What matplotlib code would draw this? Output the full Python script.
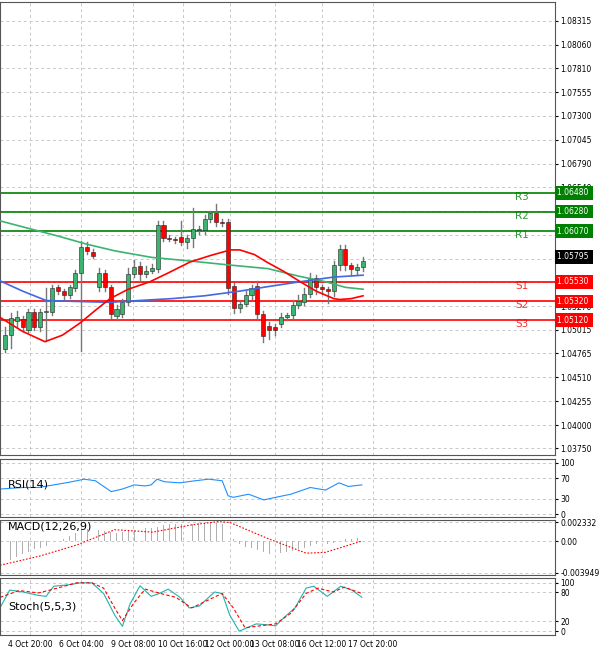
import matplotlib
matplotlib.use("Agg")
import matplotlib.pyplot as plt
from matplotlib.patches import Rectangle
import numpy as np

opens  = [1.0481,1.0496,1.0511,1.0513,1.0502,1.0521,1.0505,1.0521,1.0521,1.0547,1.0543,1.0539,1.0546,1.0562,1.0590,1.0585,1.0547,1.0562,1.0547,1.0516,1.0519,1.0531,1.0561,1.0570,1.0561,1.0564,1.0567,1.0614,1.0600,1.0599,1.0601,1.0595,1.0600,1.0608,1.0608,1.0620,1.0626,1.0617,1.0617,1.0548,1.0525,1.0529,1.0539,1.0548,1.0519,1.0506,1.0505,1.0508,1.0515,1.0517,1.0528,1.0531,1.0540,1.0557,1.0547,1.0545,1.0543,1.0571,1.0588,1.0571,1.0566,1.0569]
closes = [1.0496,1.0514,1.0515,1.0505,1.0521,1.0505,1.0521,1.0522,1.0546,1.0543,1.0539,1.0547,1.0562,1.0590,1.0586,1.0581,1.0562,1.0547,1.0519,1.0524,1.0531,1.0561,1.0569,1.0561,1.0564,1.0568,1.0614,1.0600,1.0599,1.0598,1.0595,1.0600,1.0609,1.0609,1.0620,1.0626,1.0617,1.0616,1.0546,1.0525,1.0529,1.0539,1.0546,1.0519,1.0495,1.0501,1.0501,1.0515,1.0517,1.0528,1.0532,1.0540,1.0557,1.0547,1.0545,1.0543,1.0571,1.0588,1.0571,1.0567,1.0569,1.0575]
highs  = [1.0505,1.0520,1.0522,1.0516,1.0524,1.0524,1.0524,1.0546,1.0550,1.0550,1.0545,1.0550,1.0566,1.0596,1.0595,1.0588,1.0568,1.0566,1.0550,1.0528,1.0535,1.0568,1.0576,1.0574,1.0570,1.0572,1.0618,1.0618,1.0603,1.0601,1.0618,1.0603,1.0632,1.0612,1.0624,1.0629,1.0636,1.0620,1.0620,1.0552,1.0532,1.0543,1.0550,1.0554,1.0522,1.0510,1.0508,1.0520,1.0520,1.0533,1.0539,1.0546,1.0562,1.0560,1.0549,1.0547,1.0575,1.0592,1.0592,1.0573,1.0572,1.0579]
lows   = [1.0478,1.0482,1.0505,1.0500,1.0499,1.0501,1.0500,1.0490,1.0518,1.0540,1.0535,1.0536,1.0543,1.0479,1.0583,1.0578,1.0543,1.0543,1.0514,1.0512,1.0515,1.0528,1.0558,1.0554,1.0558,1.0562,1.0563,1.0596,1.0596,1.0594,1.0592,1.0589,1.0590,1.0604,1.0604,1.0617,1.0612,1.0612,1.0540,1.0520,1.0521,1.0527,1.0535,1.0514,1.0489,1.0492,1.0496,1.0505,1.0512,1.0513,1.0525,1.0528,1.0537,1.0540,1.0540,1.0530,1.0538,1.0566,1.0566,1.0560,1.0561,1.0565]

ma_x = [-0.85,3.0,6.8,9.8,12.8,15.5,17.9,21.0,24.7,28.0,31.5,35.0,38.4,40.0,42.5,44.6,47.5,50.3,53.0,56.0,57.0,59.0,61.0]
ma_red = [1.0515,1.0500,1.0489,1.0496,1.0509,1.0523,1.0535,1.0545,1.0553,1.0563,1.0574,1.0581,1.0587,1.0587,1.0582,1.0574,1.0564,1.0553,1.0543,1.0535,1.0534,1.0535,1.0538]
mb_x = [-0.85,3.0,7.0,12.0,17.9,23.0,28.5,34.0,40.0,45.0,50.3,56.0,61.0]
ma_blue = [1.0554,1.0543,1.0533,1.0532,1.0531,1.0533,1.0535,1.0538,1.0543,1.0548,1.0553,1.0558,1.0560]
mg_x = [-0.85,4.0,8.9,14.0,18.7,25.0,31.8,38.0,44.8,50.0,54.6,58.0,61.0]
ma_green = [1.0618,1.0610,1.0602,1.0593,1.0586,1.0579,1.0575,1.0571,1.0567,1.0559,1.0553,1.0547,1.0545]

levels = [("R3",1.06480,"#008000"),("R2",1.06280,"#008000"),("R1",1.06070,"#008000"),
          ("S1",1.05530,"#ff0000"),("S2",1.05320,"#ff0000"),("S3",1.05120,"#ff0000")]
last_price = 1.05795
price_ticks = [1.08315,1.08060,1.07810,1.07555,1.07300,1.07045,1.06790,1.06540,1.06285,1.06030,1.05775,1.05525,1.05270,1.05015,1.04765,1.04510,1.04255,1.04000,1.03750]

time_labels = ["3 Oct 12:00","4 Oct 20:00","6 Oct 04:00","9 Oct 08:00","10 Oct 16:00","12 Oct 00:00","13 Oct 08:00","16 Oct 12:00","17 Oct 20:00"]
time_pos = [-4.0,4.3,13.0,21.8,30.3,38.3,46.0,54.0,62.7]

rsi_x = [-0.85,3.1,5.7,8.3,10.9,13.5,15.4,18.1,20.0,22.0,23.9,24.9,25.9,27.2,29.8,32.4,34.7,37.0,38.0,38.9,41.5,44.1,46.1,48.7,52.0,54.6,56.9,58.5,60.8]
rsi_v = [49,52,52,57,62,68,65,44,49,57,55,57,68,63,61,65,68,65,36,33,39,28,33,39,52,47,61,54,57]

macd_hist = [-0.0028,-0.0024,-0.0020,-0.0016,-0.0013,-0.0010,-0.0008,-0.0006,-0.0003,0.0000,0.0003,0.0006,0.0010,0.0014,0.0015,0.0015,0.0014,0.0013,0.0011,0.0010,0.0011,0.0012,0.0014,0.0015,0.0016,0.0016,0.0017,0.0020,0.0021,0.0021,0.0021,0.0021,0.0021,0.0022,0.0022,0.0023,0.0022,0.0021,0.0015,0.0002,-0.0004,-0.0007,-0.0009,-0.0011,-0.0014,-0.0016,-0.0016,-0.0015,-0.0014,-0.0012,-0.0010,-0.0008,-0.0006,-0.0004,-0.0005,-0.0004,-0.0002,0.0000,0.0002,0.0003,0.0004,0.0006]
sig_x = [-0.85,5.7,12.2,18.7,25.2,31.8,36.3,38.3,44.8,51.3,54.6,60.8]
sig_v = [-0.0030,-0.0019,-0.0005,0.0014,0.0011,0.0020,0.0024,0.0023,0.0003,-0.0015,-0.0014,0.0000]

st_x = [-0.85,0.8,3.1,5.7,7.0,8.3,10.9,12.8,14.8,16.8,18.7,20.0,21.3,23.0,24.9,26.5,27.8,29.8,31.4,33.1,35.7,37.0,38.3,39.9,42.8,44.8,46.1,47.7,49.4,51.3,52.6,54.9,57.2,59.1,60.8]
st_main = [48,85,81,74,72,93,96,100,100,78,33,10,56,94,72,79,87,70,48,52,81,78,33,0,15,13,11,30,48,89,93,72,93,85,70]
ss_x = [-0.85,2.4,5.7,8.9,12.2,14.8,16.8,18.7,20.0,22.0,23.9,26.5,29.1,31.8,34.4,37.0,38.9,40.9,43.5,46.1,48.7,51.3,53.3,55.9,57.8,60.8]
st_sig = [70,84,79,89,100,100,89,48,22,59,87,78,70,48,63,78,48,7,11,15,37,78,89,81,91,78]

W, H = 600, 652
fig = plt.figure(figsize=(W/100, H/100), dpi=100)
fig.patch.set_facecolor("white")
def ax_at(top, bot):
    return fig.add_axes([0, 1-bot/H, 555/W, (bot-top)/H])
XL = (-0.85, 93.7)
gridkw = dict(color="#c8c8c8", linestyle=(0,(3,3)), linewidth=0.7)
ax = ax_at(2, 455); a1 = ax_at(459, 517); a2 = ax_at(520, 575); a3 = ax_at(578, 635)
for a in (ax, a1, a2, a3):
    a.set_xticks(time_pos)
    a.grid(True, **gridkw)
    a.set_axisbelow(True)
    a.yaxis.tick_right()
    a.tick_params(axis="y", labelsize=5.5, length=2, pad=2)
    a.tick_params(axis="x", length=0)
    for s in a.spines.values():
        s.set_color("#555555"); s.set_linewidth(0.8)
    if a is not a3:
        a.set_xticklabels([])
a3.set_xticklabels(time_labels, fontsize=5.5)

ax.set_ylim(1.03680, 1.08517)
ax.set_yticks(price_ticks)
ax.set_yticklabels([f"{p:.5f}" for p in price_ticks])
for i,(o,c,h,l) in enumerate(zip(opens,closes,highs,lows)):
    col = "#3cb371" if c >= o else "#ff0000"
    ax.plot([i,i],[l,h], color="#777777", lw=1.0, zorder=2)
    ax.add_patch(Rectangle((i-0.35, min(o,c)), 0.7, max(abs(c-o),0.00006), facecolor=col, edgecolor="#222222", lw=0.4, zorder=3))
ax.plot(mg_x, ma_green, color="#3cb371", lw=1.2, zorder=4)
ax.plot(mb_x, ma_blue, color="#4169e1", lw=1.2, zorder=4)
ax.plot(ma_x, ma_red, color="#ff0000", lw=1.2, zorder=4)
for name, v, col in levels:
    ax.axhline(v, color=col, lw=1.2, zorder=1)
    ax.text(88.0, v-0.00075, name, color=col, fontsize=7.5, alpha=0.8, ha="center")
    ax.text(1.004, v, f"{v:.5f} ", transform=ax.get_yaxis_transform(), fontsize=5.5, color="white", va="center", ha="left",
            bbox=dict(boxstyle="square,pad=0.3", fc=col, ec="none"), zorder=10, clip_on=False)
ax.text(1.004, last_price, f"{last_price:.5f} ", transform=ax.get_yaxis_transform(), fontsize=5.5, color="white", va="center", ha="left",
        bbox=dict(boxstyle="square,pad=0.3", fc="black", ec="none"), zorder=10, clip_on=False)

a1.set_ylim(-5, 107)
a1.set_yticks([0,30,70,100])
a1.plot(rsi_x, rsi_v, color="#1e90ff", lw=0.8)
a1.text(0.5, 58, "RSI(14)", fontsize=8, va="center")

a2.set_ylim(-0.0042, 0.0026)
a2.set_yticks([-0.003949, 0.0, 0.002332])
a2.set_yticklabels(["-0.003949","0.00","0.002332"])
a2.bar(range(len(macd_hist)), macd_hist, width=0.15, color="#b0b0b0")
a2.plot(sig_x, sig_v, color="#ff0000", lw=0.8, linestyle=(0,(1.5,1.5)))
a2.text(0.5, 0.0018, "MACD(12,26,9)", fontsize=8, va="center")

a3.set_ylim(-8, 110)
a3.set_yticks([0,20,80,100])
a3.plot(st_x, st_main, color="#20b2aa", lw=0.8)
a3.plot(ss_x, st_sig, color="#ff0000", lw=0.8, linestyle=(0,(3,2)))
a3.text(0.5, 50, "Stoch(5,5,3)", fontsize=8, va="center")

for a in (ax, a1, a2, a3):
    a.set_xlim(*XL)

fig.savefig("out.png", dpi=100)
